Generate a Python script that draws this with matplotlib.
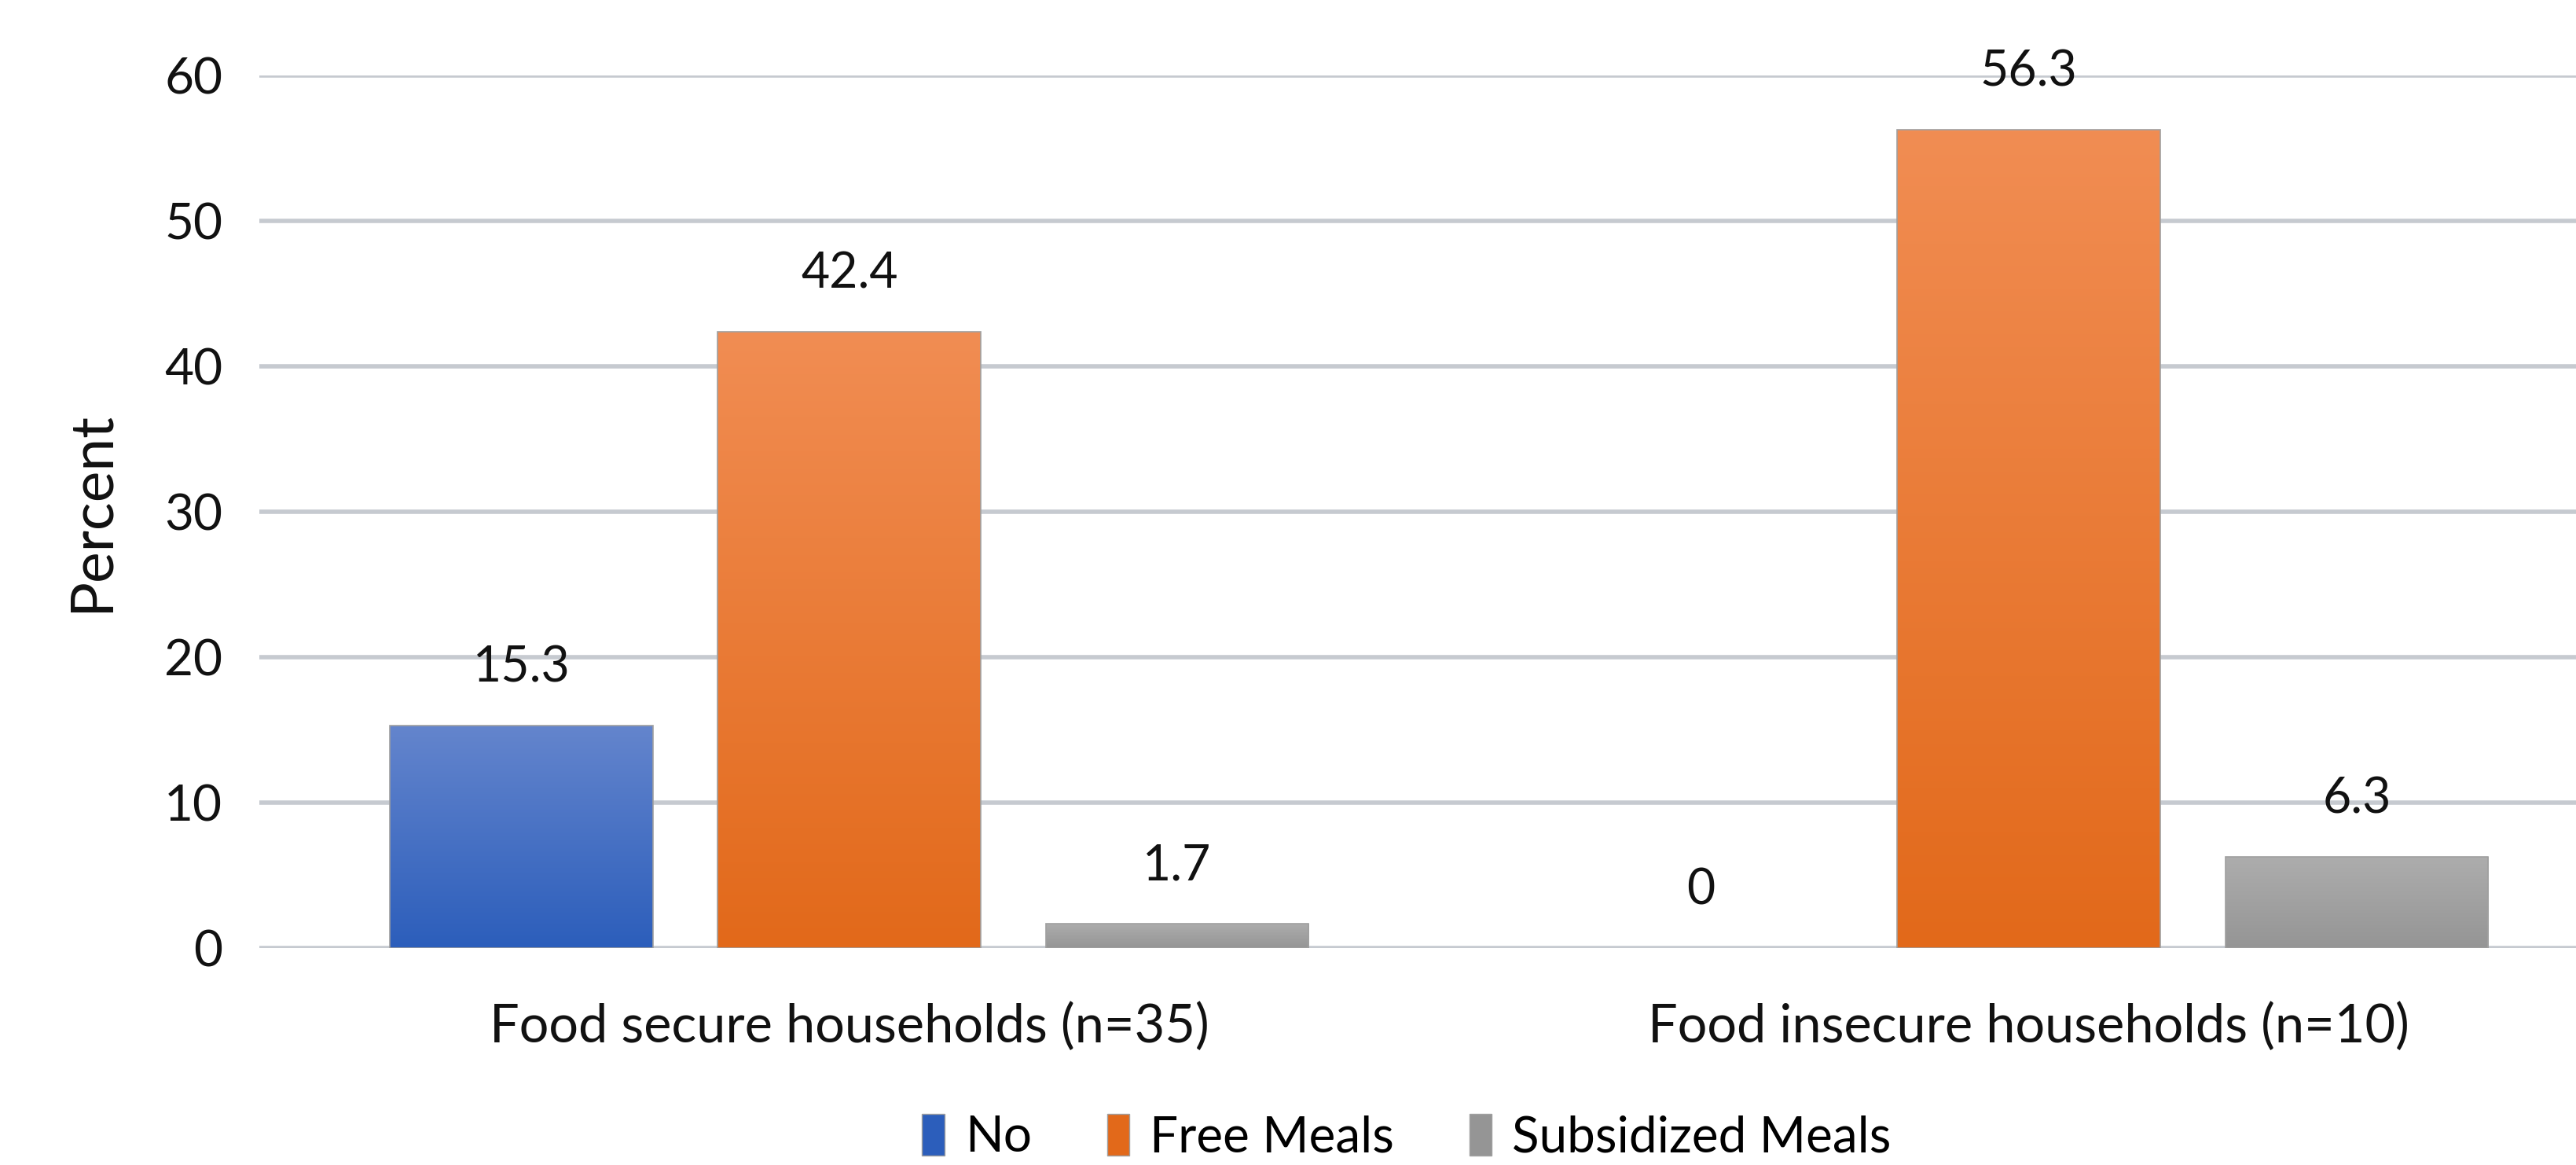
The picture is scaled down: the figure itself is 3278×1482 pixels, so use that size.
import numpy as np
import matplotlib
matplotlib.use("Agg")
import matplotlib.pyplot as plt
from matplotlib.colors import LinearSegmentedColormap
from matplotlib.patches import Patch

plt.rcParams['font.family'] = ['Lato', 'DejaVu Sans']

# data
groups = ['Food secure households (n=35)', 'Food insecure households (n=10)']
series = ['No', 'Free Meals', 'Subsidized Meals']
values = {
    'No': [15.3, 0],
    'Free Meals': [42.4, 56.3],
    'Subsidized Meals': [1.7, 6.3],
}
# top colour, bottom colour of the gradient
grad = {
    'No': ('#6485CD', '#2C5EBB'),
    'Free Meals': ('#F18D53', '#E2691A'),
    'Subsidized Meals': ('#ADADAD', '#959595'),
}
yticks = [0, 10, 20, 30, 40, 50, 60]

fig = plt.figure(figsize=(32.78, 14.82), dpi=100)
ax = fig.add_axes([0.1008, 0.186, 0.8992, 0.749])

x = np.arange(len(groups))
w = 0.223
step = 0.278

for i, s in enumerate(series):
    xs = x + (i - 1) * step
    lw = [1.2 if v > 0 else 0 for v in values[s]]
    bars = ax.bar(xs, values[s], width=w, color='none', edgecolor='#A0A0A0',
                  linewidth=lw, zorder=3)
    cmap = LinearSegmentedColormap.from_list(s, [grad[s][1], grad[s][0]])
    for b, v in zip(bars, values[s]):
        if v > 0:
            g = np.linspace(0, 1, 256).reshape(-1, 1)
            im = ax.imshow(g, cmap=cmap, aspect='auto', origin='lower',
                           extent=[b.get_x(), b.get_x() + b.get_width(), 0, v],
                           zorder=2)
            im.set_clip_path(b)
        ax.annotate(f'{v:g}', (b.get_x() + b.get_width() / 2, v),
                    xytext=(0, 53), textcoords='offset points',
                    ha='center', va='center', fontsize=45, color='#111111')

ax.set_xlim(-0.5, 1.464)
ax.set_ylim(0, 60)
ax.set_yticks(yticks)
ax.set_xticks(x)
ax.set_xticklabels(groups, fontsize=48)
ax.tick_params(axis='both', length=0, labelsize=46, colors='#111111')
ax.tick_params(axis='x', labelsize=48, pad=50)
ax.tick_params(axis='y', pad=34)
ax.yaxis.grid(True, color='#C6CAD0', linewidth=4, zorder=0)
ax.set_axisbelow(True)
for sp in ax.spines.values():
    sp.set_visible(False)
ax.set_ylabel('Percent', fontsize=54, color='#111111', labelpad=42)

handles = [Patch(facecolor=grad[s][1], edgecolor='#A0A0A0') for s in series]
fig.legend(handles, series, loc='center', bbox_to_anchor=(0.546, 0.024),
           ncol=3, frameon=False, fontsize=46, handlelength=0.45,
           handleheight=0.9, handletextpad=0.4, columnspacing=1.5)

fig.savefig('out.png', dpi=100, facecolor='white')
